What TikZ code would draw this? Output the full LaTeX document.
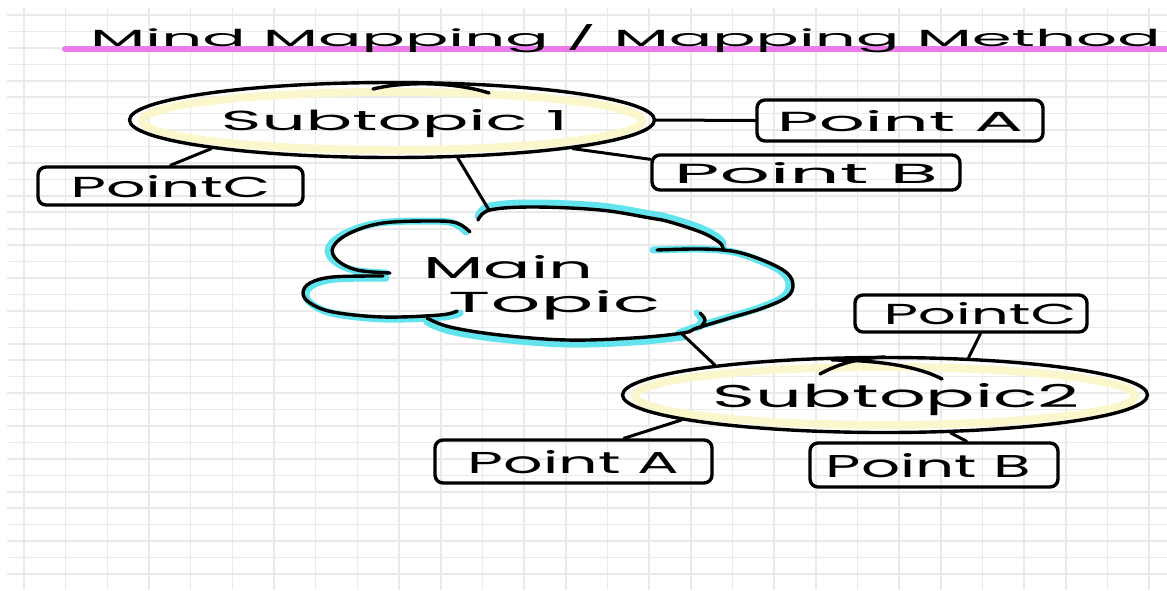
\documentclass[tikz,border=0pt]{standalone}
\usepackage{fontspec}
\setmainfont{Poppins}
\usetikzlibrary{shapes.geometric,calc}
\definecolor{gridgray}{RGB}{234,234,234}
\definecolor{titlepink}{RGB}{236,122,234}
\definecolor{hlyellow}{RGB}{251,247,205}
\definecolor{hlcyan}{RGB}{98,228,238}
\begin{document}
\begin{tikzpicture}[x=1pt,y=-1pt,
  gridline/.style={draw=gridgray,line width=1.6pt},
  ink/.style={draw=black,line width=3.4pt,line cap=round,line join=round},
  topicoval/.style={ellipse,ink,minimum width=525pt,minimum height=75pt,inner sep=0pt,text depth=0pt},
  pointbox/.style={rectangle,rounded corners=8pt,ink,inner sep=0pt,text depth=0pt},
  link/.style={draw=black,line width=3pt,line cap=round},
  yband/.style={draw=hlyellow,line width=8pt},
  cband/.style={draw=hlcyan,line width=7pt,line cap=round,line join=round},
  lbl/.style={inner sep=0pt,anchor=base west}
]
\useasboundingbox (0,0) rectangle (1167,590);
\fill[white] (0,0) rectangle (1167,590);
% grid paper
\foreach \i in {0,...,27} \draw[gridline] ({24+41.67*\i},8) -- ({24+41.67*\i},590);
\foreach \j in {0,...,34} \draw[gridline] (7,{15+16.44*\j}) -- (1167,{15+16.44*\j});
% title underline
\draw[line width=6pt,draw=titlepink,line cap=round] (65,49) -- (1167,49);
% cloud highlight
\draw[cband,shift={(-4,0)}] plot[smooth,tension=0.6] coordinates {(470,232) (457,223) (433,221) (383,223) (350,233) (333,247) (337,260) (357,270) (390,273)};
\draw[cband,shift={(3,2)}] plot[smooth,tension=0.6] coordinates {(383,276) (333,277) (310,283) (303,293) (310,303) (333,312) (383,317) (440,315) (457,311)};
\draw[cband,shift={(0,4)}] plot[smooth,tension=0.6] coordinates {(427,318) (450,327) (500,335) (567,340) (633,338) (683,333)};
\draw[cband,shift={(-4,0)}] plot[smooth,tension=0.6] coordinates {(683,333) (697,328) (730,318) (763,308) (787,297) (793,285) (787,273) (767,262) (737,252) (703,249) (657,250)};
\draw[cband,shift={(0,-4)}] plot[smooth,tension=0.6] coordinates {(478,220) (490,210) (533,207) (600,210) (650,218) (670,222) (703,233) (720,243) (723,249)};
\draw[cband,shift={(-3,0)}] plot[smooth,tension=0.6] coordinates {(700,313) (705,320) (700,328)};
% cloud outline
\draw[ink] plot[smooth,tension=0.6] coordinates {(470,232) (457,223) (433,221) (383,223) (350,233) (333,247) (337,260) (357,270) (390,273)};
\draw[ink] plot[smooth,tension=0.6] coordinates {(383,276) (333,277) (310,283) (303,293) (310,303) (333,312) (383,317) (440,315) (457,311)};
\draw[ink] plot[smooth,tension=0.6] coordinates {(427,318) (450,327) (500,335) (567,340) (633,338) (683,333) (697,328) (730,318) (763,308) (787,297) (793,285) (787,273) (767,262) (737,252) (703,249) (657,250)};
\draw[ink] plot[smooth,tension=0.6] coordinates {(478,220) (490,210) (533,207) (600,210) (650,218) (670,222) (703,233) (720,243) (723,249)};
\draw[ink] plot[smooth,tension=0.6] coordinates {(700,313) (705,320) (700,328)};
% yellow bands inside the ovals
\draw[yband] (392,121) ellipse [x radius=250, y radius=29];
\draw[yband] (885,396) ellipse [x radius=250, y radius=29];
% nodes
\node[topicoval] (s1) at (392,120) {\makebox[0pt][c]{\hspace*{5pt}\resizebox{347pt}{21pt}{Subtopic 1}}};
\node[topicoval] (s2) at (885,395) {\makebox[0pt][c]{\hspace*{23pt}\resizebox{367pt}{24pt}{Subtopic2}}};
\node[pointbox,minimum width=286pt,minimum height=41pt] (pat) at (900,120.5) {\resizebox{246pt}{21pt}{Point A}};
\node[pointbox,minimum width=308pt,minimum height=35pt] (pbt) at (806,172.5) {\resizebox{264pt}{21pt}{Point B}};
\node[pointbox,minimum width=265pt,minimum height=38pt] (pcl) at (170.5,186) {\resizebox{200pt}{22pt}{PointC}};
\node[pointbox,minimum width=232pt,minimum height=37pt] (pcr) at (971,313.5) {\hspace*{18pt}\resizebox{193pt}{22pt}{PointC}};
\node[pointbox,minimum width=277pt,minimum height=43pt] (pab) at (573.5,461.5) {\resizebox{211pt}{23pt}{Point A}};
\node[pointbox,minimum width=248pt,minimum height=44pt] (pbb) at (934,465) {\hspace*{-11pt}\resizebox{205pt}{24pt}{Point B}};
\node[lbl] (title) at (90,46) {\resizebox{1070pt}{22pt}{Mind Mapping / Mapping Method}};
\node[lbl] (mt1) at (423,278) {\resizebox{170pt}{23pt}{Main}};
\node[lbl] (mt2) at (448,312) {\resizebox{212pt}{22pt}{Topic}};
% overlapping stroke ends on the ovals
\draw[ink] (373,89) .. controls (405,81) and (455,82) .. (489,93);
\draw[ink] (820,374) .. controls (838,364) and (858,358) .. (885,357);
\draw[ink] (832,360) .. controls (875,360) and (918,366) .. (942,379);
% connectors
\coordinate (cltop) at (489,210);
\coordinate (clbr) at (681,333);
\draw[link] (s1.189) -- (pcl.north);
\draw[link] (s1.330) -- (cltop);
\draw[link] (s1.east) -- (pat.west);
\draw[link] (s1.351) -- ([yshift=-6pt]pbt.north west);
\draw[link] (clbr) -- (s2.170);
\draw[link] (s2.187) -- ($(pab.north west)!0.68!(pab.north east)$);
\draw[link] (s2.330) -- ($(pbb.north west)!0.63!(pbb.north east)$);
\draw[link] ($(pcr.south west)!0.54!(pcr.south east)$) -- (s2.24);
\end{tikzpicture}
\end{document}
